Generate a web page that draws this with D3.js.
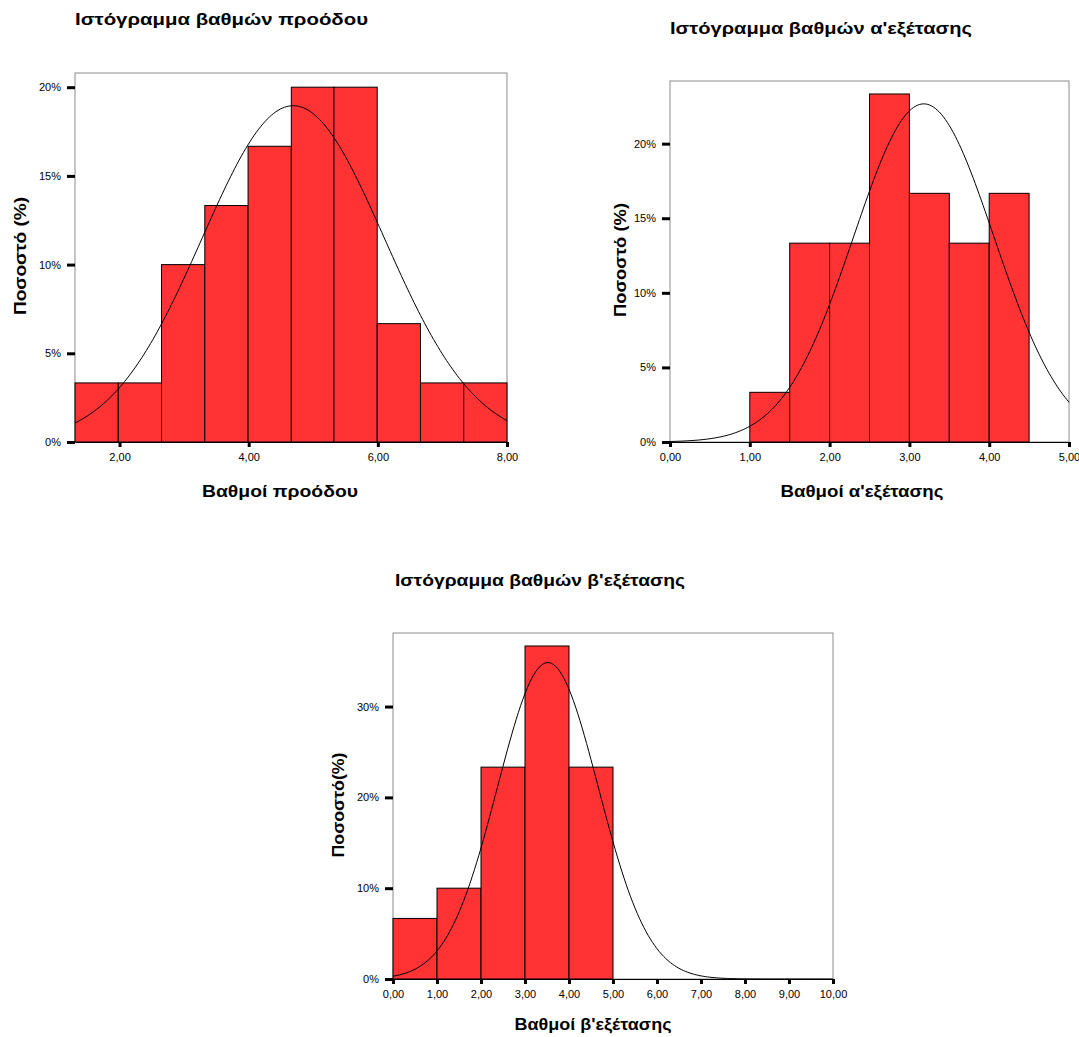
<!DOCTYPE html>
<html>
<head>
<meta charset="utf-8">
<script src="https://cdn.jsdelivr.net/npm/d3@7"></script>
<style>
  body { margin: 0; background: #fff; }
  text { font-family: "Liberation Sans", Arial, sans-serif; fill: #000; }
</style>
</head>
<body>
<script>
const w = 1079;
const h = 1037;

// Ιστόγραμμα βαθμών προόδου
const progEdges = [1.31, 1.98, 2.65, 3.32, 3.99, 4.66, 5.32, 5.99, 6.66, 7.33, 8.0];
const progPct = [3.33, 3.33, 10, 13.33, 16.67, 20, 20, 6.67, 3.33, 3.33];
const progNormal = { mean: 4.69, sd: 1.41 };
const progXTicks = [2, 4, 6, 8];
const progYTicks = [0, 5, 10, 15, 20];

// Ιστόγραμμα βαθμών α'εξέτασης
const examAEdges = [1.0, 1.5, 2.0, 2.5, 3.0, 3.5, 4.0, 4.5];
const examAPct = [3.33, 13.33, 13.33, 23.33, 16.67, 13.33, 16.67];
const examANormal = { mean: 3.18, sd: 0.88 };
const examAXTicks = [0, 1, 2, 3, 4, 5];
const examAYTicks = [0, 5, 10, 15, 20];

// Ιστόγραμμα βαθμών β'εξέτασης
const examBEdges = [0, 1, 2, 3, 4, 5];
const examBPct = [6.67, 10, 23.33, 36.67, 23.33];
const examBNormal = { mean: 3.52, sd: 1.145 };
const examBXTicks = [0, 1, 2, 3, 4, 5, 6, 7, 8, 9, 10];
const examBYTicks = [0, 10, 20, 30];

const svg = d3.select("body").append("svg").attr("width", w).attr("height", h);

const fmtX = (d) => d3.format(".2f")(d).replace(".", ",");
const fmtY = (d) => d + "%";

// bold label, stretched a bit wider like the original export
function label(g, txt, x, y, len, anchor, rotate) {
  const t = g.append("text")
    .attr("text-anchor", anchor)
    .attr("textLength", len)
    .attr("lengthAdjust", "spacingAndGlyphs")
    .style("font-size", "17px")
    .style("font-weight", "bold")
    .text(txt);
  if (rotate) t.attr("transform", "translate(" + x + "," + y + ") rotate(-90)");
  else t.attr("x", x).attr("y", y);
  return t;
}

function histogram(cfg) {
  const g = svg.append("g");
  const x = d3.scaleLinear().domain(cfg.xDomain).range([cfg.left, cfg.right]);
  const y = d3.scaleLinear().domain(cfg.yDomain).range([cfg.bottom, cfg.top]);

  // frame
  g.append("rect")
    .attr("x", cfg.left)
    .attr("y", cfg.top)
    .attr("width", cfg.right - cfg.left)
    .attr("height", cfg.bottom - cfg.top)
    .attr("fill", "none")
    .attr("stroke", "#8c8c8c");

  // bars
  const bins = cfg.pct.map((p, i) => ({ x0: cfg.edges[i], x1: cfg.edges[i + 1], p: p }));
  g.selectAll(".bar")
    .data(bins)
    .enter()
    .append("rect")
    .attr("class", "bar")
    .attr("x", (d) => x(d.x0))
    .attr("y", (d) => y(d.p))
    .attr("width", (d) => x(d.x1) - x(d.x0))
    .attr("height", (d) => y(0) - y(d.p))
    .attr("fill", "#ff3333")
    .attr("stroke", "#000")
    .attr("stroke-width", 1);

  // normal curve scaled to bin width
  const bw = cfg.edges[1] - cfg.edges[0];
  const m = cfg.normal.mean, s = cfg.normal.sd;
  const pts = d3.range(0, 201).map((i) => {
    const xv = cfg.xDomain[0] + (cfg.xDomain[1] - cfg.xDomain[0]) * i / 200;
    const z = (xv - m) / s;
    return [xv, 100 * bw * Math.exp(-0.5 * z * z) / (s * Math.sqrt(2 * Math.PI))];
  });
  g.append("path")
    .datum(pts)
    .attr("fill", "none")
    .attr("stroke", "#000")
    .attr("stroke-width", 1)
    .attr("d", d3.line().x((d) => x(d[0])).y((d) => y(d[1])));

  // axes
  const xAxis = d3.axisBottom(x).tickValues(cfg.xTicks).tickFormat(fmtX).tickSize(5).tickSizeOuter(0).tickPadding(6);
  const yAxis = d3.axisLeft(y).tickValues(cfg.yTicks).tickFormat(fmtY).tickSize(8).tickSizeOuter(0).tickPadding(6);

  const gx = g.append("g").attr("transform", "translate(0," + cfg.bottom + ")").call(xAxis);
  const gy = g.append("g").attr("transform", "translate(" + cfg.left + ",0)").call(yAxis);
  gy.select(".domain").remove();
  gx.select(".domain").attr("stroke", "#000");
  [gx, gy].forEach((a) => {
    a.selectAll(".tick line").attr("stroke", "#000").attr("stroke-width", 3);
    a.selectAll(".tick text")
      .style("font-family", "Liberation Sans, Arial, sans-serif")
      .style("font-size", "11px")
      .attr("fill", "#222");
  });

  // titles
  label(g, cfg.title, cfg.titleX, cfg.titleY, cfg.titleLen, "start", false);
  label(g, cfg.xLabel, cfg.xLabelX, cfg.xLabelY, cfg.xLabelLen, "middle", false);
  label(g, cfg.yLabel, cfg.yLabelX, cfg.yLabelY, cfg.yLabelLen, "middle", true);
}

histogram({
  edges: progEdges, pct: progPct, normal: progNormal,
  xTicks: progXTicks, yTicks: progYTicks,
  xDomain: [1.31, 8], yDomain: [0, 20.8],
  left: 75, right: 507, top: 73, bottom: 442,
  title: "Ιστόγραμμα βαθμών προόδου", titleX: 75, titleY: 25, titleLen: 293,
  xLabel: "Βαθμοί προόδου", xLabelX: 280, xLabelY: 497, xLabelLen: 156,
  yLabel: "Ποσοστό (%)", yLabelX: 26, yLabelY: 256, yLabelLen: 118
});

histogram({
  edges: examAEdges, pct: examAPct, normal: examANormal,
  xTicks: examAXTicks, yTicks: examAYTicks,
  xDomain: [0, 5], yDomain: [0, 24.2],
  left: 670, right: 1069, top: 81, bottom: 442,
  title: "Ιστόγραμμα βαθμών α'εξέτασης", titleX: 670, titleY: 34, titleLen: 302,
  xLabel: "Βαθμοί α'εξέτασης", xLabelX: 862, xLabelY: 497, xLabelLen: 163,
  yLabel: "Ποσοστό (%)", yLabelX: 626, yLabelY: 260, yLabelLen: 114
});

histogram({
  edges: examBEdges, pct: examBPct, normal: examBNormal,
  xTicks: examBXTicks, yTicks: examBYTicks,
  xDomain: [0, 10], yDomain: [0, 38.1],
  left: 393, right: 833, top: 633, bottom: 979,
  title: "Ιστόγραμμα βαθμών β'εξέτασης", titleX: 395, titleY: 586, titleLen: 290,
  xLabel: "Βαθμοί β'εξέτασης", xLabelX: 593, xLabelY: 1030, xLabelLen: 157,
  yLabel: "Ποσοστό(%)", yLabelX: 344, yLabelY: 805, yLabelLen: 105
});
</script>
</body>
</html>
